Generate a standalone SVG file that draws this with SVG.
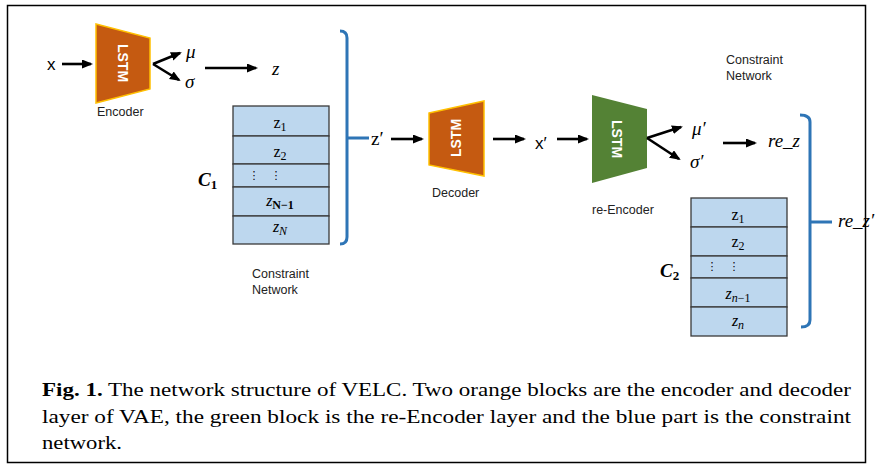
<svg xmlns="http://www.w3.org/2000/svg" width="879" height="473" viewBox="0 0 879 473">
<defs>
<style>
.frame{fill:none;stroke:#000;stroke-width:1.5}
.arr{fill:none;stroke:#000;stroke-width:2.6;marker-end:url(#ah)}
.brk{fill:none;stroke:#2E75B6;stroke-width:3}
.cell{fill:#BDD7EE;stroke:#3A3A3A;stroke-width:1.3}
.lbl{font-family:"Liberation Sans",Arial,sans-serif;font-size:12.5px;fill:#222}
.lstm{font-family:"Liberation Sans",Arial,sans-serif;font-size:14px;font-weight:bold;fill:#fff}
.math{font-family:"Liberation Serif","DejaVu Serif",serif;font-style:italic;font-size:19px;fill:#000}
.cz{font-family:"Liberation Serif","DejaVu Serif",serif;font-size:16px;fill:#000}
.dots{font-family:"DejaVu Sans",sans-serif;font-size:11px;fill:#000}
.cap{font-family:"Liberation Serif","Times New Roman",serif;font-size:18.5px;fill:#000}
</style>
<marker id="ah" markerUnits="userSpaceOnUse" markerWidth="12" markerHeight="10" refX="9" refY="4.5" orient="auto">
<path d="M0,0 L11,4.5 L0,9 z" fill="#000"/>
</marker>
</defs>
<rect width="879" height="473" fill="#fff"/>
<rect class="frame" x="7.5" y="5.5" width="858" height="457"/>

<g id="input-x"><text x="47" y="70" font-family="Liberation Sans,Arial,sans-serif" font-size="17">x</text></g>

<g id="encoder">
<polygon points="96,24 150,38 150,89 96,103" fill="#C55A11" stroke="#FFC000" stroke-width="1.5"/>
<text class="lstm" transform="translate(118,63) rotate(90)" text-anchor="middle">LSTM</text>
<text class="lbl" x="97" y="116">Encoder</text>
</g>

<g id="mu-sigma">
<text class="math" x="186" y="58">μ</text>
<text class="math" x="185" y="88">σ</text>
</g>
<g id="z"><text class="math" x="272" y="75">z</text></g>

<g id="c1">
<rect class="cell" x="233" y="106" width="96" height="30"/>
<rect class="cell" x="233" y="136" width="96" height="28"/>
<rect class="cell" x="233" y="164" width="96" height="23"/>
<rect class="cell" x="233" y="187" width="96" height="29"/>
<rect class="cell" x="233" y="216" width="96" height="28"/>
<text class="cz" x="280" y="128" text-anchor="middle">z<tspan font-size="12" dy="3">1</tspan></text>
<text class="cz" x="280" y="157" text-anchor="middle">z<tspan font-size="12" dy="3">2</tspan></text>
<text class="dots" x="254" y="179" text-anchor="middle">⋮</text>
<text class="dots" x="276" y="179" text-anchor="middle">⋮</text>
<text class="cz" x="280" y="206" text-anchor="middle"><tspan font-style="italic">z</tspan><tspan font-size="12" dy="3" font-weight="bold">N−1</tspan></text>
<text class="cz" x="280" y="232" text-anchor="middle"><tspan font-style="italic">z</tspan><tspan font-size="12" dy="3" font-style="italic">N</tspan></text>
<text x="198" y="186" font-family="Liberation Serif,serif" font-style="italic" font-weight="bold" font-size="19">C<tspan font-style="normal" font-size="13" dy="3">1</tspan></text>
<text class="lbl" x="252" y="278">Constraint</text>
<text class="lbl" x="252" y="294">Network</text>
</g>

<g id="bracket1">
<path class="brk" d="M340,31 Q347,31 347,38 L347,237 Q347,244 340,244 M347,138 L369,138"/>
</g>
<g id="z-prime"><text x="371" y="145" font-family="Liberation Serif,serif" font-size="19">z′</text></g>

<g id="decoder">
<polygon points="429,113 484,101 484,176 429,165" fill="#C55A11" stroke="#FFC000" stroke-width="1.5"/>
<text class="lstm" transform="translate(461,138) rotate(-90)" text-anchor="middle">LSTM</text>
<text class="lbl" x="432" y="197">Decoder</text>
</g>

<g id="x-prime"><text x="535" y="149" font-family="Liberation Sans,Arial,sans-serif" font-size="17">x′</text></g>

<g id="re-encoder">
<polygon points="592,95 647,109 647,168 592,183" fill="#548235"/>
<text class="lstm" transform="translate(612,139) rotate(90)" text-anchor="middle">LSTM</text>
<text class="lbl" x="592" y="214">re-Encoder</text>
</g>

<g id="mu-sigma-prime">
<text class="math" x="692" y="135">μ′</text>
<text class="math" x="690" y="168">σ′</text>
</g>
<g id="re-z"><text class="math" x="768" y="147">re_z</text></g>

<g id="constraint-label2">
<text class="lbl" x="726" y="64">Constraint</text>
<text class="lbl" x="726" y="80">Network</text>
</g>

<g id="c2">
<rect class="cell" x="691" y="198" width="96" height="29"/>
<rect class="cell" x="691" y="227" width="96" height="29"/>
<rect class="cell" x="691" y="256" width="96" height="22"/>
<rect class="cell" x="691" y="278" width="96" height="29"/>
<rect class="cell" x="691" y="307" width="96" height="29"/>
<text class="cz" x="738" y="220" text-anchor="middle">z<tspan font-size="12" dy="3">1</tspan></text>
<text class="cz" x="738" y="247" text-anchor="middle">z<tspan font-size="12" dy="3">2</tspan></text>
<text class="dots" x="712" y="270" text-anchor="middle">⋮</text>
<text class="dots" x="734" y="270" text-anchor="middle">⋮</text>
<text class="cz" x="738" y="299" text-anchor="middle"><tspan font-style="italic">z</tspan><tspan font-size="12" dy="3" font-style="italic">n</tspan><tspan font-size="12">−1</tspan></text>
<text class="cz" x="738" y="326" text-anchor="middle"><tspan font-style="italic">z</tspan><tspan font-size="12" dy="3" font-style="italic">n</tspan></text>
<text x="660" y="277" font-family="Liberation Serif,serif" font-style="italic" font-weight="bold" font-size="19">C<tspan font-style="normal" font-size="13" dy="3">2</tspan></text>
</g>

<g id="bracket2">
<path class="brk" d="M800,115 Q810,115 810,122 L810,320 Q810,327 801,327 M810,222 L832,222"/>
</g>
<g id="re-z-prime"><text class="math" x="838" y="227">re_z′</text></g>

<g id="connectors">
<line class="arr" x1="62" y1="64" x2="91" y2="64"/>
<line class="arr" x1="153" y1="64" x2="180" y2="53"/>
<line class="arr" x1="153" y1="64" x2="179" y2="80"/>
<line class="arr" x1="205" y1="68" x2="256" y2="68"/>
<line class="arr" x1="391" y1="139" x2="422" y2="139"/>
<line class="arr" x1="493" y1="139" x2="524" y2="139"/>
<line class="arr" x1="557" y1="139" x2="587" y2="139"/>
<line class="arr" x1="647" y1="138" x2="681" y2="127"/>
<line class="arr" x1="647" y1="138" x2="679" y2="159"/>
<line class="arr" x1="723" y1="143" x2="755" y2="143"/>
</g>

<g id="caption">
<text class="cap" x="42" y="396" textLength="809" lengthAdjust="spacingAndGlyphs"><tspan font-weight="bold">Fig. 1.</tspan> The network structure of VELC. Two orange blocks are the encoder and decoder</text>
<text class="cap" x="42" y="423" textLength="809" lengthAdjust="spacingAndGlyphs">layer of VAE, the green block is the re-Encoder layer and the blue part is the constraint</text>
<text class="cap" x="42" y="449" textLength="80" lengthAdjust="spacingAndGlyphs">network.</text>
</g>
</svg>
